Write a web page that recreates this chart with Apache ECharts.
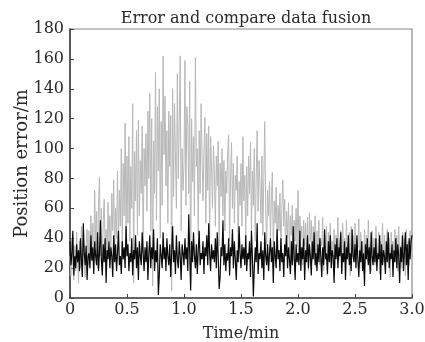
<!DOCTYPE html>
<html>
<head>
<meta charset="utf-8">
<script src="https://cdn.jsdelivr.net/npm/echarts@6/dist/echarts.min.js"></script>
<style>
html,body{margin:0;padding:0;background:#fff;}
#c{width:425px;height:342px;}
</style>
</head>
<body>
<div id="c"></div>
<script>
// Sampling: two samples per second, plotted in minutes
const sampleStepMin = 1 / 120;
const xTicks = [0, 0.5, 1.0, 1.5, 2.0, 2.5, 3.0];
const yTicks = [0, 20, 40, 60, 80, 100, 120, 140, 160, 180];

// Light grey series (compare data), 20 samples per row (10 s)
const greyValues = [
  28, 15, 40, 22, 12, 35, 18, 44, 25, 10, 38, 20, 48, 16, 42, 24, 14, 36, 46, 22,
  45, 26, 55, 30, 50, 22, 72, 35, 58, 20, 62, 81, 28, 60, 18, 52, 66, 32, 46, 25,
  64, 38, 55, 30, 70, 45, 79, 28, 60, 40, 85, 35, 72, 48, 100, 30, 90, 55, 117, 42,
  95, 50, 108, 38, 88, 60, 130, 10, 98, 65, 112, 42, 119, 55, 92, 70, 115, 30, 100, 75,
  110, 58, 125, 80, 137, 45, 120, 8, 105, 70, 151, 52, 128, 85, 140, 40, 118, 62, 162, 96,
  135, 75, 112, 50, 125, 88, 122, 5, 140, 68, 130, 95, 60, 150, 80, 118, 162, 45, 100, 72,
  90, 159, 62, 128, 115, 70, 145, 10, 120, 78, 108, 55, 161, 88, 100, 42, 112, 70, 130, 95,
  65, 98, 121, 50, 110, 72, 115, 40, 108, 88, 60, 102, 82, 48, 95, 75, 105, 35, 90, 68,
  100, 55, 92, 45, 85, 70, 98, 109, 38, 80, 104, 60, 90, 50, 82, 72, 95, 30, 78, 62,
  90, 48, 108, 65, 82, 40, 88, 55, 95, 70, 104, 45, 85, 62, 100, 38, 80, 112, 58, 92,
  75, 50, 95, 42, 80, 118, 60, 35, 72, 55, 78, 40, 68, 84, 30, 65, 50, 74, 36, 62,
  45, 70, 32, 60, 79, 48, 66, 28, 58, 40, 64, 30, 55, 42, 62, 25, 52, 38, 60, 34,
  72, 30, 55, 40, 48, 22, 52, 35, 50, 28, 54, 18, 57, 38, 52, 25, 48, 32, 55, 20,
  45, 30, 52, 22, 40, 35, 54, 18, 42, 28, 48, 15, 44, 32, 50, 24, 38, 30, 46, 20,
  42, 28, 54, 25, 38, 45, 18, 50, 32, 40, 22, 52, 28, 36, 44, 15, 48, 30, 42, 24,
  50, 26, 40, 34, 53, 20, 44, 30, 38, 16, 46, 28, 42, 24, 52, 32, 36, 18, 45, 30,
  40, 22, 48, 35, 28, 44, 16, 38, 30, 50, 24, 42, 20, 36, 46, 26, 40, 14, 44, 32,
  38, 24, 46, 30, 42, 18, 48, 28, 35, 20, 44, 32, 40, 15, 46, 26, 38, 22, 45, 28,
  34
];

// Black series (data fusion), 20 samples per row (10 s)
const blackValues = [
  38, 22, 30, 45, 15, 28, 20, 36, 24, 32, 18, 40, 26, 14, 50, 30, 22, 35, 12, 28,
  30, 20, 42, 25, 34, 16, 38, 28, 22, 44, 18, 30, 52, 26, 15, 36, 24, 40, 10, 32,
  26, 38, 20, 34, 28, 14, 42, 24, 36, 18, 30, 45, 22, 28, 16, 38, 26, 34, 20, 48,
  28, 36, 18, 30, 24, 40, 15, 32, 26, 42, 20, 34, 12, 38, 28, 22, 44, 30, 18, 34,
  24, 38, 12, 30, 42, 20, 34, 26, 46, 18, 32, 24, 40, 2, 15, 36, 28, 20, 44, 26,
  34, 18, 40, 28, 22, 36, 14, 30, 48, 24, 32, 16, 42, 26, 20, 38, 28, 12, 36, 30,
  22, 40, 26, 34, 18, 56, 30, 5, 38, 24, 44, 28, 20, 36, 16, 32, 45, 22, 30, 26,
  38, 16, 34, 28, 42, 22, 50, 30, 18, 36, 26, 32, 24, 40, 20, 44, 28, 6, 14, 34,
  28, 52, 22, 36, 18, 30, 25, 40, 15, 34, 28, 46, 20, 38, 26, 12, 32, 24, 48, 30,
  20, 36, 26, 34, 22, 42, 18, 30, 26, 38, 14, 45, 28, 1, 20, 34, 24, 50, 16, 30,
  26, 38, 20, 32, 12, 44, 28, 22, 36, 18, 30, 40, 24, 34, 10, 38, 28, 20, 46, 26,
  32, 18, 40, 24, 30, 14, 36, 28, 42, 20, 34, 26, 16, 38, 22, 48, 28, 12, 36, 24,
  30, 22, 45, 18, 34, 26, 40, 12, 32, 24, 42, 20, 36, 28, 15, 38, 26, 44, 22, 30,
  18, 36, 24, 40, 28, 14, 34, 22, 46, 26, 30, 16, 38, 24, 42, 20, 32, 28, 10, 36,
  26, 40, 20, 34, 28, 44, 16, 30, 24, 38, 12, 34, 26, 42, 22, 30, 18, 46, 28, 24,
  36, 20, 42, 26, 14, 32, 24, 38, 18, 30, 8, 36, 26, 40, 22, 34, 16, 44, 28, 22,
  34, 24, 40, 18, 30, 26, 42, 12, 36, 22, 32, 28, 16, 38, 24, 44, 20, 30, 26, 36,
  14, 32, 24, 40, 20, 36, 28, 10, 34, 24, 42, 18, 30, 44, 22, 36, 12, 40, 26, 38,
  42
];

const toPairs = vals => vals.map((v, i) => [i * sampleStepMin, v]);

const FONT = '"DejaVu Serif", "Liberation Serif", serif';
const TXT = '#2a2a2a';
const chart = echarts.init(document.getElementById('c'), null, {renderer: 'canvas'});
chart.setOption({
  backgroundColor: '#fff',
  animation: false,
  title: {
    text: 'Error and compare data fusion',
    left: 241, top: 6, textAlign: 'center',
    textStyle: {fontFamily: FONT, fontSize: 16, fontWeight: 'normal', color: TXT}
  },
  grid: {left: 70, right: 13, top: 29, bottom: 44, containLabel: false, outerBoundsMode: 'none',
    show: true, borderColor: '#8a8a8a', borderWidth: 1.2},
  xAxis: {
    type: 'value', min: 0, max: 3, interval: 0.5,
    name: 'Time/min', nameLocation: 'middle', nameGap: 28, nameMoveOverlap: false,
    nameTextStyle: {fontFamily: FONT, fontSize: 16, color: TXT},
    axisLine: {show: true, onZero: false, lineStyle: {color: '#444', width: 1.6}},
    axisTick: {show: true, inside: true, length: 4, lineStyle: {color: '#444'}},
    axisLabel: {fontFamily: FONT, fontSize: 16, color: TXT, margin: 4,
      formatter: v => (v === 0 ? '0' : v.toFixed(1))},
    splitLine: {show: false}
  },
  yAxis: {
    type: 'value', min: 0, max: 180, interval: 20,
    name: 'Position error/m', nameLocation: 'middle', nameGap: 39, nameMoveOverlap: false,
    nameTextStyle: {fontFamily: FONT, fontSize: 18, color: TXT},
    axisLine: {show: true, lineStyle: {color: '#444', width: 1.6}},
    axisTick: {show: true, inside: true, length: 4, lineStyle: {color: '#444'}},
    axisLabel: {fontFamily: FONT, fontSize: 16, color: TXT, margin: 6},
    splitLine: {show: false}
  },
  series: [
    {type: 'line', data: toPairs(greyValues), showSymbol: false, symbol: 'none',
      lineStyle: {color: '#b8b8b8', width: 1}, z: 2},
    {type: 'line', data: toPairs(blackValues), showSymbol: false, symbol: 'none',
      lineStyle: {color: '#0a0a0a', width: 1.2}, z: 3}
  ]
});
</script>
</body>
</html>
